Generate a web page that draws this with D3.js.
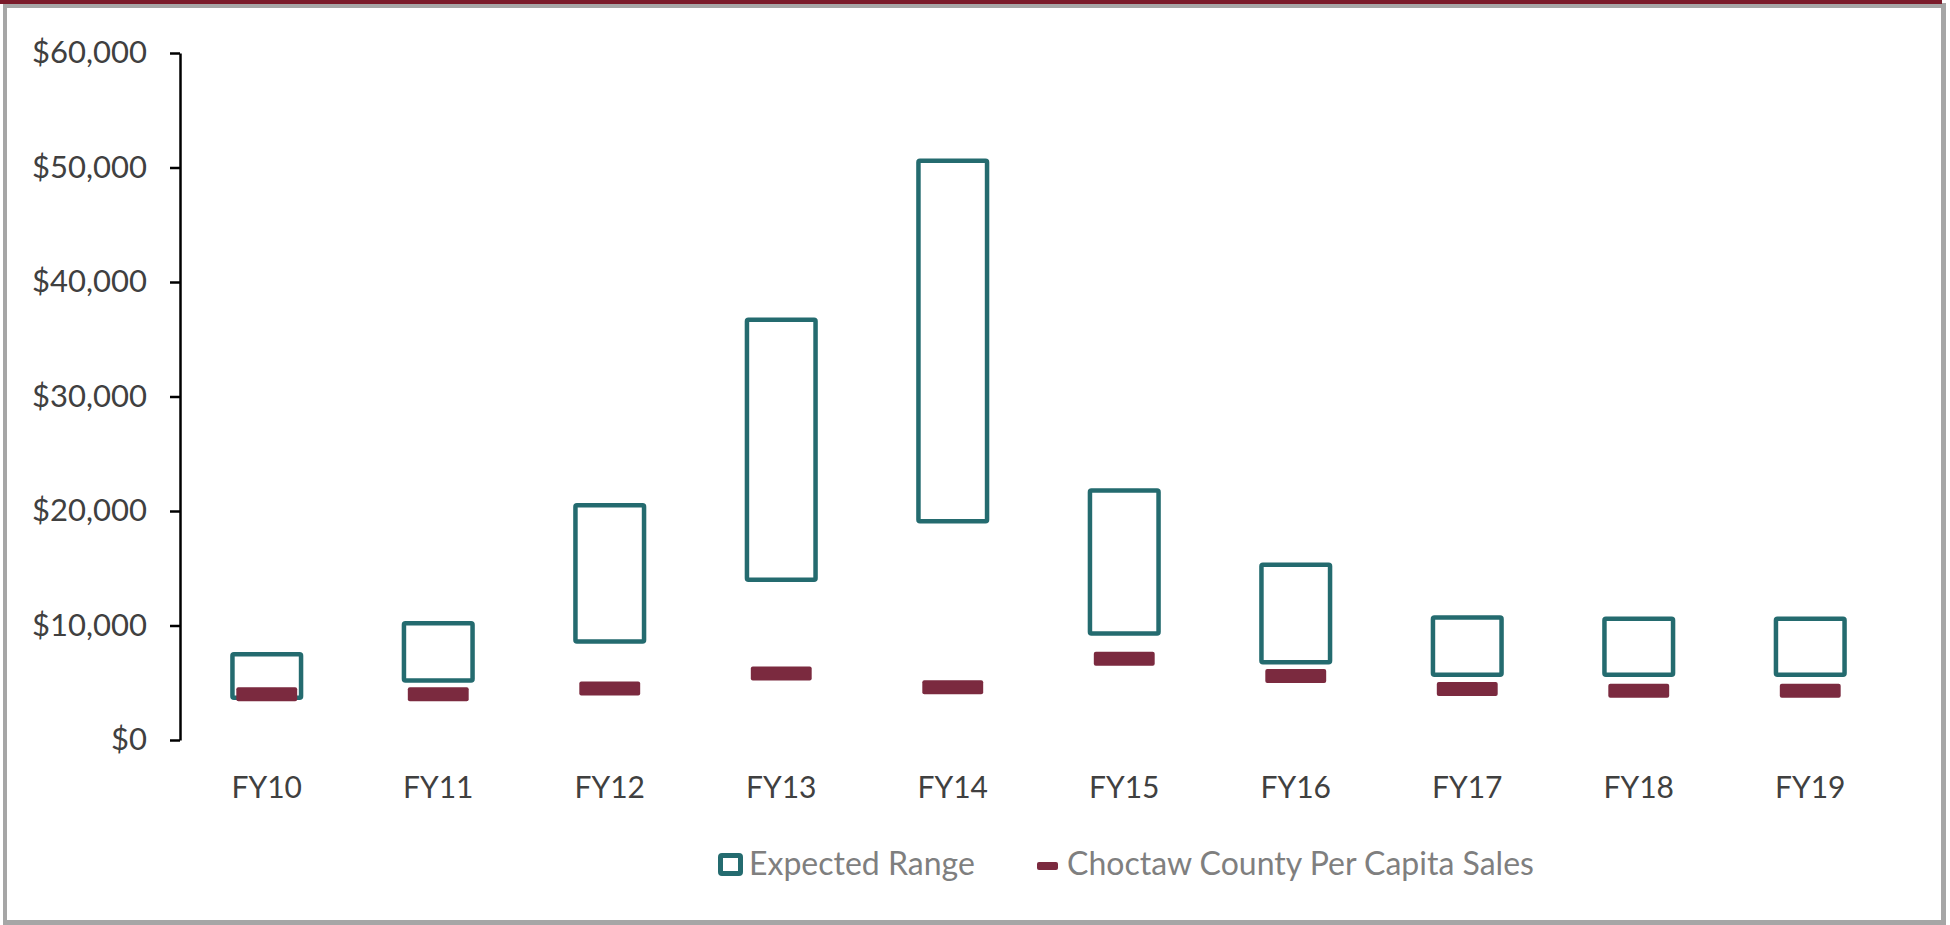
<!DOCTYPE html>
<html>
<head>
<meta charset="utf-8">
<script src="https://cdn.jsdelivr.net/npm/d3@7"></script>
<style>
  body { margin: 0; background: #fff; }
  text { font-family: Lato, "Open Sans", sans-serif; }
</style>
</head>
<body>
<div id="chart"></div>
<script>
// --- chart values ---
const categories = ["FY10", "FY11", "FY12", "FY13", "FY14", "FY15", "FY16", "FY17", "FY18", "FY19"];
const rangeLow   = [3700, 5200, 8600, 14000, 19100, 9300, 6800, 5700, 5700, 5700];
const rangeHigh  = [7500, 10200, 20500, 36700, 50600, 21800, 15300, 10700, 10600, 10600];
const perCapita  = [4000, 4000, 4500, 5800, 4600, 7100, 5600, 4450, 4300, 4300];
const yTicks     = [0, 10000, 20000, 30000, 40000, 50000, 60000];
const legendLabels = ["Expected Range", "Choctaw County Per Capita Sales"];

const TEAL = "#246b6f", MAROON = "#7b2a3f";

const W = 1950, H = 925;
const svg = d3.select("#chart").append("svg")
  .attr("width", W).attr("height", H);

// frame: dark red top strip, grey border, white panel
svg.append("rect").attr("x", 3).attr("y", 3).attr("width", 1943).attr("height", 922).attr("fill", "#a6a6a6");
svg.append("rect").attr("x", 0).attr("y", 0).attr("width", 1942).attr("height", 4).attr("fill", "#7a1a2a");
svg.append("rect").attr("x", 7).attr("y", 8).attr("width", 1934).attr("height", 912).attr("fill", "#fff");

const x = d3.scaleBand().domain(categories).range([181, 1896]);
const y = d3.scaleLinear().domain([0, 60000]).range([740, 53]);

// y axis
const yAxis = svg.append("g")
  .attr("transform", "translate(180,0)")
  .call(d3.axisLeft(y).tickValues(yTicks).tickSize(10).tickSizeOuter(0).tickPadding(23)
    .tickFormat(d => "$" + d3.format(",")(d)));
yAxis.select(".domain").attr("stroke", "#000").attr("stroke-width", 2.5);
yAxis.selectAll(".tick line").attr("stroke", "#000").attr("stroke-width", 2.5);
yAxis.selectAll(".tick text").attr("font-size", 31).attr("fill", "#404040")
  .style("font-family", "Lato, sans-serif");

// category labels
svg.append("g").selectAll("text")
  .data(categories).enter().append("text")
  .attr("x", d => x(d) + x.bandwidth() / 2)
  .attr("y", 798)
  .attr("text-anchor", "middle")
  .attr("font-size", 30)
  .attr("fill", "#404040")
  .text(d => d);

// expected range boxes
const boxW = x.bandwidth() * 0.4;
svg.append("g").selectAll("rect")
  .data(categories).enter().append("rect")
  .attr("x", d => x(d) + (x.bandwidth() - boxW) / 2)
  .attr("y", (d, i) => y(rangeHigh[i]))
  .attr("width", boxW)
  .attr("height", (d, i) => y(rangeLow[i]) - y(rangeHigh[i]))
  .attr("fill", "none")
  .attr("stroke", TEAL)
  .attr("stroke-width", 4.5)
  .attr("rx", 1.5);

// per capita sales markers
const markW = x.bandwidth() * 0.355, markH = 14;
svg.append("g").selectAll("rect")
  .data(categories).enter().append("rect")
  .attr("x", d => x(d) + (x.bandwidth() - markW) / 2)
  .attr("y", (d, i) => y(perCapita[i]) - markH / 2)
  .attr("width", markW)
  .attr("height", markH)
  .attr("rx", 2)
  .attr("fill", MAROON);

// legend
const legend = svg.append("g");
legend.append("rect")
  .attr("x", 720.5).attr("y", 855.5).attr("width", 20).attr("height", 18)
  .attr("fill", "none").attr("stroke", TEAL).attr("stroke-width", 5).attr("rx", 1.5);
legend.append("text")
  .attr("x", 749).attr("y", 875).attr("font-size", 32).attr("fill", "#7f7f7f")
  .text(legendLabels[0]);
legend.append("rect")
  .attr("x", 1037).attr("y", 862).attr("width", 21).attr("height", 8).attr("rx", 2)
  .attr("fill", MAROON);
legend.append("text")
  .attr("x", 1067).attr("y", 875).attr("font-size", 32).attr("fill", "#7f7f7f")
  .text(legendLabels[1]);
</script>
</body>
</html>
